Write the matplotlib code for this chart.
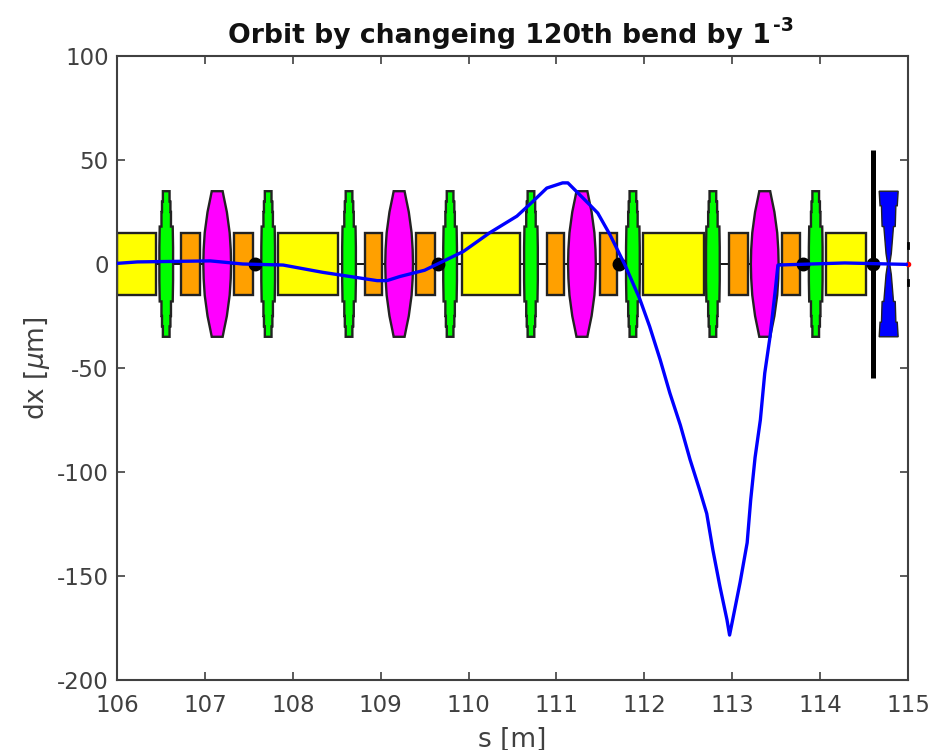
import numpy as np
import matplotlib
matplotlib.use('Agg')
import matplotlib.pyplot as plt
from matplotlib.patches import Polygon, Rectangle

# lattice elements, positions in s [m]
yellow_start = [106.00, 107.83, 109.925, 111.98, 114.07]
yellow_end = [106.44, 108.51, 110.585, 112.68, 114.52]
orange_start = [106.73, 107.33, 108.82, 109.40, 110.89, 111.49, 112.96, 113.57]
orange_end = [106.94, 107.55, 109.01, 109.62, 111.09, 111.69, 113.18, 113.77]
green_s = [106.56, 107.72, 108.64, 109.79, 110.71, 111.87, 112.78, 113.95]
magenta_s = [107.14, 109.21, 111.29, 113.37]
bpm_s = [107.57, 109.65, 111.71, 113.80, 114.60]
bar_s = 114.60
bowtie_s = 114.78

# orbit
orbit_s = [106.00, 106.23, 107.06, 107.43, 107.89, 108.34, 108.65, 108.96, 109.07,
           109.22, 109.50, 109.94, 110.24, 110.55, 110.73, 110.89, 111.07, 111.13,
           111.38, 111.47, 111.61, 111.78, 111.95, 112.06, 112.18, 112.29, 112.41,
           112.52, 112.63, 112.71, 112.78, 112.86, 112.94, 112.97, 113.01, 113.09,
           113.17, 113.21, 113.26, 113.32, 113.37, 113.43, 113.49, 113.52, 114.28, 115.00]
orbit_dx = [0.3, 1, 1.5, 0, -0.5, -4, -6, -8, -8,
            -6, -3, 6, 15, 23, 30, 36.5, 39, 39,
            28.4, 24.5, 14, -0.5, -17, -30, -46, -62, -77.5,
            -94, -108.7, -120, -137.5, -155, -171, -178.4, -170, -153,
            -134, -113.5, -93, -75, -52.5, -35, -12.5, -0.5, 0.5, -0.2]

x_ticks = [106, 107, 108, 109, 110, 111, 112, 113, 114, 115]
y_ticks = [100, 50, 0, -50, -100, -150, -200]

# half widths of the magnet outlines (m) against height (um)
green_h = [35, 30, 30, 25, 25, 18, 18, 8, 0]
green_w = [0.038, 0.038, 0.048, 0.048, 0.054, 0.054, 0.074, 0.078, 0.078]
magenta_h = [35, 32, 25, 15, 7, 0]
magenta_w = [0.062, 0.076, 0.11, 0.142, 0.154, 0.158]
bowtie_h = [35, 28, 28, 18, 18, 5, 0]
bowtie_w = [0.108, 0.098, 0.082, 0.075, 0.055, 0.03, 0.012]

text_col = '#404040'
axis_col = '#404040'

plt.rcParams['font.family'] = 'DejaVu Sans'
plt.rcParams['axes.unicode_minus'] = False


def outline(s0, h, w):
    # build a closed symmetric outline from one quarter of the shape
    h = np.array(h)
    w = np.array(w)
    right = np.column_stack([s0 + w, h])
    right_low = np.column_stack([s0 + w[::-1], -h[::-1]])
    left_low = np.column_stack([s0 - w, -h])
    left = np.column_stack([s0 - w[::-1], h[::-1]])
    return np.vstack([right, right_low, left_low, left])


fig = plt.figure(figsize=(9.33, 7.5), dpi=100)
ax = fig.add_axes([117 / 933, 1 - 680 / 750, 791 / 933, 624 / 750])

ax.plot([106, 115], [0, 0], color='black', lw=1.3, zorder=1)

for a, b in zip(yellow_start, yellow_end):
    ax.add_patch(Rectangle((a, -15), b - a, 30, fc='#ffff00', ec='#222222', lw=1.7, zorder=2))
for a, b in zip(orange_start, orange_end):
    ax.add_patch(Rectangle((a, -15), b - a, 30, fc='#ffa000', ec='#222222', lw=1.7, zorder=2))
for s in green_s:
    ax.add_patch(Polygon(outline(s, green_h, green_w), fc='#00ff00', ec='#222222', lw=1.7, zorder=3))
for s in magenta_s:
    ax.add_patch(Polygon(outline(s, magenta_h, magenta_w), fc='#ff00ff', ec='#222222', lw=1.7, zorder=3))

ax.plot(bpm_s, [0] * len(bpm_s), 'o', color='black', ms=9, zorder=4)
ax.plot([bar_s, bar_s], [-55, 55], color='black', lw=3.6, solid_capstyle='butt', zorder=4)
ax.add_patch(Polygon(outline(bowtie_s, bowtie_h, bowtie_w), fc='#0000ff', ec='#222222', lw=1.0, zorder=4))

# element sitting on the right edge of the axes
ax.plot([115, 115], [7.5, 10], color='black', lw=2, clip_on=False, zorder=5)
ax.plot([115, 115], [-10, -7.5], color='black', lw=2, clip_on=False, zorder=5)
ax.plot([115], [0], 'o', color='red', ms=3, clip_on=False, zorder=5)

ax.plot(orbit_s, orbit_dx, color='#0000ff', lw=2.4, zorder=6)

ax.set_xlim(106, 115)
ax.set_ylim(-200, 100)
ax.set_xticks(x_ticks)
ax.set_yticks(y_ticks)
ax.tick_params(direction='in', length=5.8, width=1.2, top=True, right=True,
               labelsize=16.5, colors=text_col, color=axis_col)
ax.tick_params(axis='x', pad=10)
ax.tick_params(axis='y', pad=6)
for sp in ax.spines.values():
    sp.set_linewidth(1.5)
    sp.set_color(axis_col)

ax.set_xlabel('s [m]', fontsize=19, color=text_col, labelpad=7)
ax.set_ylabel(r'dx [$\mu$m]', fontsize=19, color=text_col, labelpad=3)

# title and its exponent are separate so the exponent keeps a short hyphen
fig.text(228 / 933, 1 - 43 / 750, 'Orbit by changeing 120th bend by 1', fontsize=19.2,
         fontweight='bold', color='#111111', ha='left', va='baseline')
fig.text(773 / 933, 1 - 31 / 750, '-3', fontsize=13.5,
         fontweight='bold', color='#111111', ha='left', va='baseline')

fig.savefig('out.png', dpi=100)
